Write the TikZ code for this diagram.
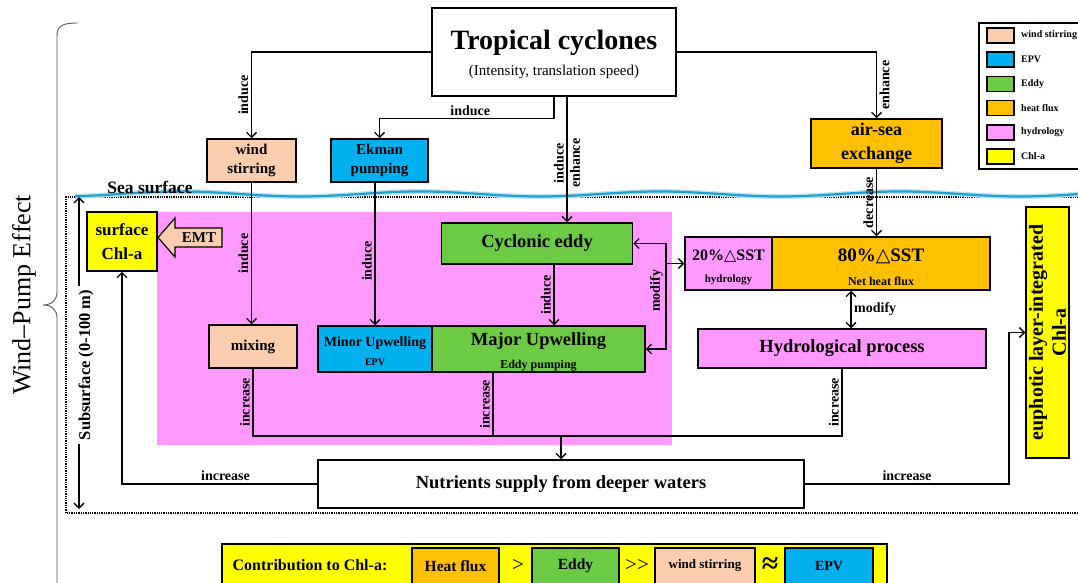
\documentclass[tikz,border=0pt]{standalone}
\usepackage{fontspec}
\setmainfont{Liberation Serif}
\newfontfamily\symfont{DejaVu Sans}
\usetikzlibrary{arrows.meta}
\definecolor{peach}{HTML}{FBCDAF}
\definecolor{epvblue}{HTML}{00B0EF}
\definecolor{eddygreen}{HTML}{6CCB45}
\definecolor{heatorange}{HTML}{FFC000}
\definecolor{hydropink}{HTML}{FF99FF}
\definecolor{chlyellow}{HTML}{FFFF00}
\definecolor{seablue}{HTML}{1E9FD6}
\newcommand\fz[2]{\fontsize{#1}{#2}\selectfont}
\tikzset{
  box/.style={draw,line width=1.5pt,align=center,inner sep=0pt},
  lab/.style={font=\bfseries\fz{14}{16},inner sep=2.5pt},
  con/.style={line width=1.3pt},
  arr/.style={con,-{Straight Barb[length=5pt,width=10pt]}},
  darr/.style={con,{Straight Barb[length=5pt,width=10pt]}-{Straight Barb[length=5pt,width=10pt]}},
}
\begin{document}
\begin{tikzpicture}[x=1pt,y=-1pt]
\useasboundingbox (0,0) rectangle (1078,583);
\clip (0,0) rectangle (1078,583);
\fill[hydropink] (157,212) rectangle (672,445);
\draw[densely dotted,line width=1.3pt] (1090,197) -- (66,197) -- (66,513) -- (1090,513);
\draw[seablue!30,line width=5pt] plot[domain=75:1078,samples=200] (\x,{194+2.5*sin(1.5*\x)});
\draw[seablue,line width=2.2pt] plot[domain=75:1078,samples=200] (\x,{194+2.5*sin(1.5*\x)});
\node[font=\bfseries\fz{17.5}{20}] (seasurf) at (150,187) {Sea surface};
\draw[gray!70!black,line width=0.9pt] (78,23) .. controls (62,23) and (57,26) .. (57,36) -- (57,292)
  .. controls (57,300) and (52,305) .. (43,305) .. controls (52,305) and (57,310) .. (57,318) -- (57,590);
\node[rotate=90,font=\fz{26}{30}] (wpe) at (24,295) {Wind–Pump Effect};
\node[rotate=90,font=\bfseries\fz{16.5}{18}] (subs) at (86,365) {Subsurface (0-100 m)};
\coordinate (sstop) at (79,197);
\coordinate (ssbot) at (79,509);
\draw[arr] (subs.east -| sstop) -- (sstop);
\draw[arr] (subs.west -| ssbot) -- (ssbot);

\node[box,fill=white,minimum width=244,minimum height=88] (tc) at (554,52) {};
\node[font=\bfseries\fz{28}{30}] (tctitle) at (554,43) {Tropical cyclones};
\node[font=\fz{15}{18}] (tcsub) at (554,72) {(Intensity, translation speed)};
\node[box,fill=peach,minimum width=89,minimum height=43,font=\bfseries\fz{15}{19}] (wind) at (251.5,160.5) {wind\\stirring};
\node[box,fill=epvblue,minimum width=97,minimum height=43,font=\bfseries\fz{15}{19}] (ekman) at (379.5,160.5) {Ekman\\pumping};
\node[box,fill=heatorange,minimum width=131,minimum height=49,font=\bfseries\fz{18}{24}] (airsea) at (876.5,143.5) {air-sea\\exchange};
\node[box,fill=chlyellow,minimum width=70,minimum height=59,font=\bfseries\fz{17}{24}] (surf) at (122,241.5) {surface\\Chl-a};
\draw[line width=1.2pt,fill=peach] (222,228) -- (175,228) -- (175,218) -- (158,237.5) -- (175,257) -- (175,247) -- (222,247) -- cycle;
\node[font=\bfseries\fz{15}{18}] (emt) at (199,237.5) {EMT};
\node[box,fill=eddygreen,minimum width=191,minimum height=41,font=\bfseries\fz{18.5}{20}] (eddy) at (537,243.5) {Cyclonic eddy};
\node[box,fill=peach,minimum width=88,minimum height=43,font=\bfseries\fz{15}{18}] (mixing) at (253,346.5) {mixing};
\node[box,fill=epvblue,minimum width=114,minimum height=46] (minor) at (375,349) {};
\node[font=\bfseries\fz{14}{16}] (minortxt) at (375,343) {Minor Upwelling};
\node[font=\bfseries\fz{10}{12}] (minorsub) at (375,362) {EPV};
\node[box,fill=eddygreen,minimum width=213,minimum height=46] (major) at (538.5,349) {};
\node[font=\bfseries\fz{18.5}{20}] (majortxt) at (538.5,341) {Major Upwelling};
\node[font=\bfseries\fz{12}{14}] (majorsub) at (538.5,366) {Eddy pumping};
\node[box,fill=hydropink,minimum width=87,minimum height=53] (sst20) at (728.5,263.5) {};
\node[font=\bfseries\fz{16}{18}] (sst20txt) at (728.5,256) {20\%{\symfont\mdseries △}SST};
\node[font=\bfseries\fz{11}{13}] (sst20sub) at (728.5,280) {hydrology};
\node[box,fill=heatorange,minimum width=218,minimum height=53] (sst80) at (881,263.5) {};
\node[font=\bfseries\fz{19}{21}] (sst80txt) at (881,256) {80\%{\symfont\mdseries △}SST};
\node[font=\bfseries\fz{12}{14}] (sst80sub) at (881,281) {Net heat flux};
\node[box,fill=hydropink,minimum width=288,minimum height=39,font=\bfseries\fz{18.5}{20}] (hydro) at (842,348.5) {Hydrological process};
\node[box,fill=white,minimum width=486,minimum height=48,font=\bfseries\fz{18.5}{20}] (nutr) at (561,484) {Nutrients supply from deeper waters};
\node[box,fill=chlyellow,rotate=90,minimum width=251,minimum height=43,font=\bfseries\fz{20}{23}] (euph) at (1047.5,332.5) {euphotic layer-integrated\\Chl-a};

\draw[line width=1.3pt] (979,23) rectangle (1095,169);
\foreach \c/\t [count=\i] in {peach/wind stirring,epvblue/EPV,eddygreen/Eddy,heatorange/heat flux,hydropink/hydrology,chlyellow/Chl-a}{
  \node[box,fill=\c,minimum width=27,minimum height=15] (leg\i) at (1000.5,{35.5+24.2*(\i-1)}) {};
  \node[anchor=west,inner sep=0pt,font=\bfseries\fz{10}{12}] (legtxt\i) at (1021,{35.5+24.2*(\i-1)}) {\t};
}

\node[box,fill=chlyellow,minimum width=665,minimum height=50,anchor=north west] (contrib) at (221,543) {};
\node[font=\bfseries\fz{16}{18}] (ctext) at (310,565) {Contribution to Chl-a:};
\node[box,fill=heatorange,minimum width=87,minimum height=36,anchor=north,font=\bfseries\fz{15.5}{18}] (cheat) at (455.5,547) {Heat flux};
\node[box,fill=eddygreen,minimum width=87,minimum height=36,anchor=north,font=\bfseries\fz{15.5}{18}] (ceddy) at (575.5,547) {Eddy};
\node[box,fill=peach,minimum width=100,minimum height=36,anchor=north,font=\bfseries\fz{13}{16}] (cwind) at (705,547) {wind stirring};
\node[box,fill=epvblue,minimum width=88,minimum height=36,anchor=north,font=\bfseries\fz{14}{16}] (cepv) at (829,547) {EPV};
\node[font=\fz{21}{23}] (gt) at (518,565) {>};
\node[font=\fz{21}{23}] (gtgt) at (637,565) {>{}>};
\node[font=\bfseries\fz{30}{32}] (approx) at (770,566) {≈};

\draw[arr] (tc.west) -| node[lab,rotate=90,anchor=south,pos=0.75] (l1) {induce} (wind.north);
\draw[arr] (tc.east) -| node[lab,rotate=90,anchor=north,pos=0.75] (l2) {enhance} (airsea.north);
\draw[arr] (tc.south) -- ++(0,22) -| node[lab,anchor=south,pos=0.24] (l3) {induce} (ekman.north);
\coordinate (tce) at ([xshift=13pt]tc.south);
\draw[arr] (tce) -- (tce |- eddy.north) node[lab,rotate=90,anchor=south,pos=0.53] (l4) {induce}
  node[lab,rotate=90,anchor=north,pos=0.53] (l5) {enhance};
\draw[arr] (wind.south) -- (wind.south |- mixing.north) node[lab,rotate=90,anchor=south,midway] (l6) {induce};
\coordinate (ekout) at ([xshift=-4.5pt]ekman.south);
\draw[arr] (ekout) -- (ekout |- minor.north) node[lab,rotate=90,anchor=south,pos=0.55] (l7) {induce};
\coordinate (edout) at ([xshift=17pt]eddy.south);
\draw[arr] (edout) -- (edout |- major.north) node[lab,rotate=90,anchor=south,midway] (l8) {induce};
\coordinate (mk) at (666,263.5);
\draw[arr] (mk) |- (eddy.east);
\draw[arr] (mk) |- node[lab,rotate=90,anchor=south,pos=0.16] (l9) {modify} (major.east);
\draw[arr] (mk) -- (sst20.west);
\draw[arr] (airsea.south) -- (airsea.south |- sst80.north) node[lab,rotate=90,anchor=south,midway] (l10) {decrease};
\coordinate (md) at ([xshift=-30pt]sst80.south);
\draw[darr] (md) -- (md |- hydro.north) node[lab,anchor=west,midway] (l11) {modify};
\coordinate (jn) at (561,436);
\coordinate (mjout) at ([xshift=-45.5pt]major.south);
\draw[con] (mixing.south) |- node[lab,rotate=90,anchor=south,pos=0.25] (l12) {increase} (jn);
\draw[con] (mjout) |- node[lab,rotate=90,anchor=south,pos=0.25] (l13) {increase} (jn);
\draw[con] (hydro.south) |- node[lab,rotate=90,anchor=south,pos=0.25] (l14) {increase} (jn);
\draw[arr] (jn) -- (nutr.north);
\draw[arr] (nutr.west) -| node[lab,anchor=south,pos=0.235] (l15) {increase} (surf.south);
\coordinate (eu) at (1009,0);
\draw[arr] (nutr.east) -- (nutr.east -| eu) node[lab,anchor=south,midway] (l16) {increase} |- (euph.north);
\end{tikzpicture}
\end{document}
